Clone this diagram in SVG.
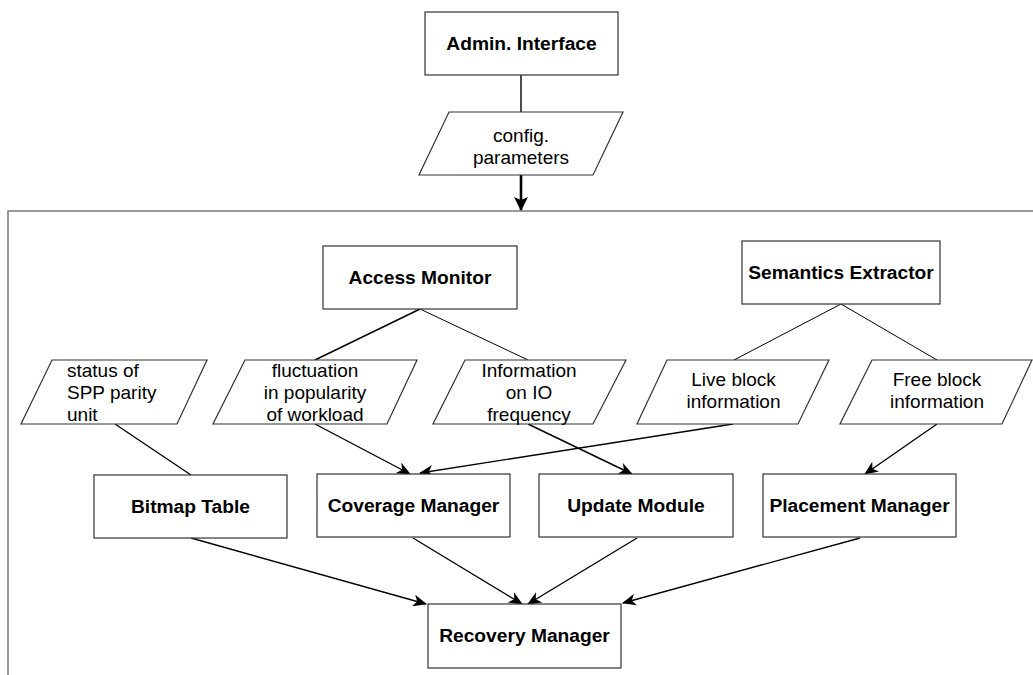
<svg xmlns="http://www.w3.org/2000/svg" width="1033" height="675" viewBox="0 0 1033 675">
<style>
.box{fill:#fff;stroke:#333;stroke-width:1.2}
.para{fill:#fff;stroke:#333;stroke-width:1.2}
.b{font-family:"Liberation Sans",Arial,sans-serif;font-weight:bold;font-size:19.2px;text-anchor:middle;fill:#000}
.r{font-family:"Liberation Sans",Arial,sans-serif;font-size:19px;text-anchor:middle;fill:#000}
.l{font-family:"Liberation Sans",Arial,sans-serif;font-size:19px;fill:#000}
.c{fill:none;stroke:#000;stroke-width:1.4}
.t{fill:none;stroke:#000;stroke-width:1}
</style>
<defs>
<marker id="ah" markerWidth="14" markerHeight="12" viewBox="0 0 14 12" refX="13" refY="6" orient="auto" markerUnits="userSpaceOnUse">
<path d="M0,0 L14,6 L0,12 L4,6 Z" fill="#000"/>
</marker>
<marker id="ahb" markerWidth="14" markerHeight="14" viewBox="0 0 14 14" refX="13" refY="7" orient="auto" markerUnits="userSpaceOnUse">
<path d="M0,0 L14,7 L0,14 L3,7 Z" fill="#000"/>
</marker>
</defs>
<rect width="1033" height="675" fill="#fff"/>
<g id="frame">
<path d="M1033,211 L8,211 L8,675" fill="none" stroke="#7a7a7a" stroke-width="1.5"/>
</g>
<g id="connectors">
<line class="c" x1="521" y1="75" x2="521" y2="112"/>
<line x1="521" y1="175" x2="521" y2="210" stroke="#000" stroke-width="2.6" marker-end="url(#ahb)"/>
<line class="c" x1="420" y1="309" x2="315" y2="360"/>
<line class="t" x1="420" y1="309" x2="528" y2="360"/>
<line class="t" x1="841" y1="304" x2="734" y2="360"/>
<line class="t" x1="841" y1="304" x2="937" y2="360"/>
<line class="c" x1="115" y1="424" x2="191" y2="475"/>
<line class="c" x1="315" y1="424" x2="410" y2="474" marker-end="url(#ah)"/>
<line class="c" x1="733" y1="424" x2="420" y2="473" marker-end="url(#ah)"/>
<line class="c" x1="528" y1="424" x2="632" y2="474" marker-end="url(#ah)"/>
<line class="c" x1="937" y1="424" x2="865" y2="474" marker-end="url(#ah)"/>
<line class="c" x1="191" y1="538" x2="426" y2="604" marker-end="url(#ah)"/>
<line class="c" x1="413" y1="538" x2="522" y2="604" marker-end="url(#ah)"/>
<line class="c" x1="637" y1="538" x2="528" y2="604" marker-end="url(#ah)"/>
<line class="c" x1="860" y1="538" x2="623" y2="603" marker-end="url(#ah)"/>
</g>
<g id="admin">
<rect class="box" x="425" y="12" width="193" height="63"/>
<text class="b" x="521.5" y="50">Admin. Interface</text>
</g>
<g id="config">
<polygon class="para" points="449,112 623,112 593,175 419,175"/>
<text class="r" x="521" y="142">config.</text>
<text class="r" x="521" y="164">parameters</text>
</g>
<g id="access">
<rect class="box" x="323" y="246" width="194" height="63"/>
<text class="b" x="420" y="284">Access Monitor</text>
</g>
<g id="semantics">
<rect class="box" x="742" y="241" width="198" height="63"/>
<text class="b" x="841" y="279">Semantics Extractor</text>
</g>
<g id="status">
<polygon class="para" points="52,360 207,360 177,424 21,424"/>
<text class="l" x="67" y="377">status of</text>
<text class="l" x="67" y="399">SPP parity</text>
<text class="l" x="67" y="421">unit</text>
</g>
<g id="fluct">
<polygon class="para" points="245,360 417,360 387,424 213,424"/>
<text class="r" x="315" y="377">fluctuation</text>
<text class="r" x="315" y="399">in popularity</text>
<text class="r" x="315" y="421">of workload</text>
</g>
<g id="info">
<polygon class="para" points="465,360 626,360 593,424 433,424"/>
<text class="r" x="529" y="377">Information</text>
<text class="r" x="529" y="399">on IO</text>
<text class="r" x="529" y="421">frequency</text>
</g>
<g id="live">
<polygon class="para" points="667,360 829,360 798,424 637,424"/>
<text class="r" x="733.5" y="386">Live block</text>
<text class="r" x="733.5" y="408">information</text>
</g>
<g id="free">
<polygon class="para" points="872,360 1032,360 1002,424 840,424"/>
<text class="r" x="937" y="386">Free block</text>
<text class="r" x="937" y="408">information</text>
</g>
<g id="bitmap">
<rect class="box" x="94" y="475" width="193" height="63"/>
<text class="b" x="190.5" y="513">Bitmap Table</text>
</g>
<g id="coverage">
<rect class="box" x="317" y="474" width="193" height="63"/>
<text class="b" x="413.5" y="512">Coverage Manager</text>
</g>
<g id="update">
<rect class="box" x="539" y="474" width="194" height="63"/>
<text class="b" x="636" y="512">Update Module</text>
</g>
<g id="placement">
<rect class="box" x="763" y="474" width="193" height="63"/>
<text class="b" x="859.5" y="512">Placement Manager</text>
</g>
<g id="recovery">
<rect class="box" x="428" y="604" width="193" height="64"/>
<text class="b" x="524.5" y="642">Recovery Manager</text>
</g>
</svg>
